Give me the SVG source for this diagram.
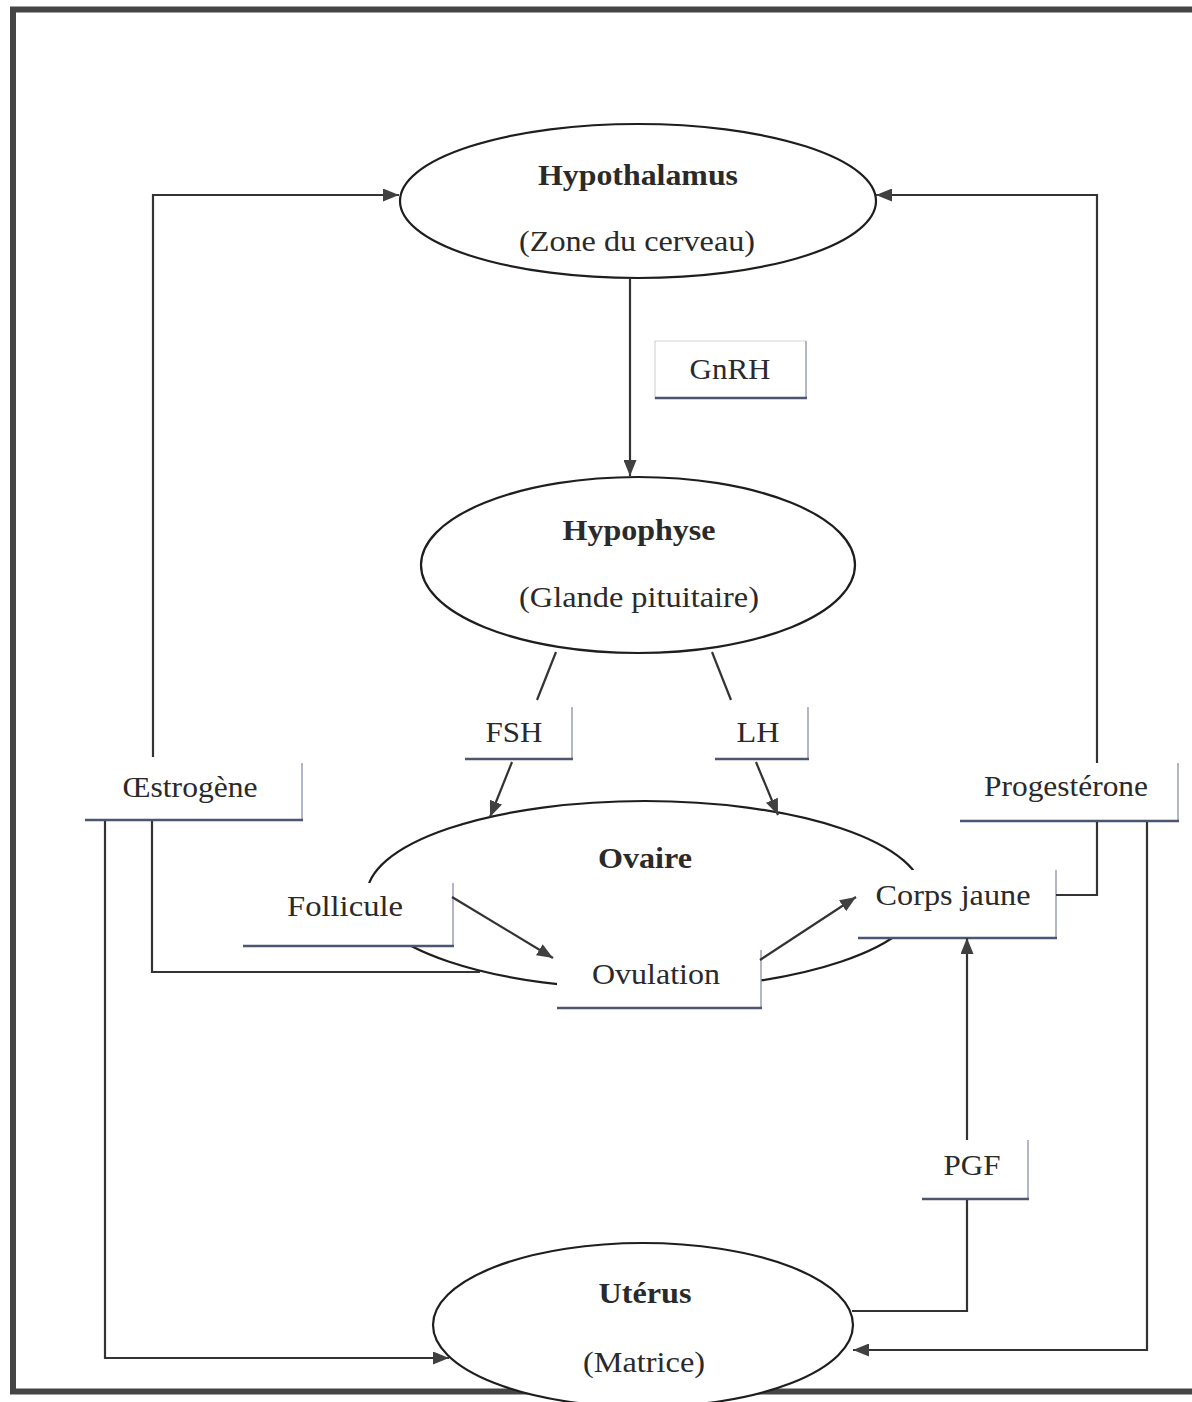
<svg xmlns="http://www.w3.org/2000/svg" width="1192" height="1402" viewBox="0 0 1192 1402">
<defs>
<marker id="ah" markerUnits="userSpaceOnUse" markerWidth="16" markerHeight="13" refX="16" refY="6.5" orient="auto">
<path d="M0,0 L16,6.5 L0,13 z" fill="#404040"/>
</marker>
<style>
.t{font-family:"Liberation Serif","Times New Roman",serif;font-size:30px;fill:#2a2a2a;text-anchor:middle}
.b{font-weight:bold}
.el{fill:#fff;stroke:#1e1e1e;stroke-width:2.2}
.bx{fill:#fff;stroke:none}
.bb{stroke:#4d5570;stroke-width:2.5;fill:none}
.br{stroke:#8a90aa;stroke-width:1.3;fill:none}
.bf{stroke:#d4d4d4;stroke-width:1.2;fill:none}
.c{fill:none;stroke:#333;stroke-width:2.2}
.ca{fill:none;stroke:#333;stroke-width:2.2;marker-end:url(#ah)}
</style>
</defs>
<rect width="1192" height="1402" fill="#fff"/>
<rect x="13" y="9.5" width="1210" height="1382" fill="none" stroke="#454545" stroke-width="6"/>

<g id="hypothalamus">
<ellipse class="el" cx="638" cy="201" rx="238" ry="77"/>
<text class="t b" x="638" y="185" textLength="200" lengthAdjust="spacingAndGlyphs">Hypothalamus</text>
<text class="t" x="637" y="251" textLength="236" lengthAdjust="spacingAndGlyphs">(Zone du cerveau)</text>
</g>

<g id="gnrh">
<rect class="bx" x="655" y="341" width="151" height="58"/>
<path class="bf" d="M655,399 V341 H806"/>
<path class="br" d="M806,341 V399"/>
<path class="bb" d="M655,398 H807"/>
<text class="t" x="730" y="379" textLength="81" lengthAdjust="spacingAndGlyphs">GnRH</text>
</g>

<g id="hypophyse">
<ellipse class="el" cx="638" cy="565" rx="217" ry="88"/>
<text class="t b" x="639" y="540" textLength="153" lengthAdjust="spacingAndGlyphs">Hypophyse</text>
<text class="t" x="639" y="607" textLength="240" lengthAdjust="spacingAndGlyphs">(Glande pituitaire)</text>
</g>

<g id="fsh">
<rect class="bx" x="465" y="707" width="107" height="52"/>
<path class="br" d="M572,707 V759"/>
<path class="bb" d="M465,759 H573"/>
<text class="t" x="514" y="742" textLength="57" lengthAdjust="spacingAndGlyphs">FSH</text>
</g>

<g id="lh">
<rect class="bx" x="715" y="707" width="93" height="52"/>
<path class="br" d="M808,707 V759"/>
<path class="bb" d="M715,759 H809"/>
<text class="t" x="758" y="742" textLength="43" lengthAdjust="spacingAndGlyphs">LH</text>
</g>

<g id="oestrogene">
<rect class="bx" x="85" y="763" width="217" height="57"/>
<path class="br" d="M302,763 V820"/>
<path class="bb" d="M85,820 H303"/>
<text class="t" x="190" y="797" textLength="135" lengthAdjust="spacingAndGlyphs">Œstrogène</text>
</g>

<g id="progesterone">
<rect class="bx" x="960" y="763" width="218" height="58"/>
<path class="br" d="M1178,763 V821"/>
<path class="bb" d="M960,821 H1179"/>
<text class="t" x="1066" y="796" textLength="164" lengthAdjust="spacingAndGlyphs">Progestérone</text>
</g>

<g id="ovaire">
<ellipse class="el" cx="645" cy="895" rx="278" ry="94"/>
<text class="t b" x="645" y="868" textLength="94" lengthAdjust="spacingAndGlyphs">Ovaire</text>
</g>

<g id="follicule">
<rect class="bx" x="243" y="883" width="210" height="64"/>
<path class="br" d="M453,883 V947"/>
<path class="bb" d="M243,946 H454"/>
<text class="t" x="345" y="916" textLength="116" lengthAdjust="spacingAndGlyphs">Follicule</text>
</g>

<g id="ovulation">
<rect class="bx" x="557" y="950" width="204" height="59"/>
<path class="br" d="M761,950 V1009"/>
<path class="bb" d="M557,1008 H762"/>
<text class="t" x="656" y="984" textLength="128" lengthAdjust="spacingAndGlyphs">Ovulation</text>
</g>

<g id="corps-jaune">
<rect class="bx" x="858" y="870" width="198" height="69"/>
<path class="br" d="M1056,870 V939"/>
<path class="bb" d="M858,938 H1057"/>
<text class="t" x="953" y="905" textLength="155" lengthAdjust="spacingAndGlyphs">Corps jaune</text>
</g>

<g id="pgf">
<rect class="bx" x="922" y="1140" width="106" height="60"/>
<path class="br" d="M1028,1140 V1200"/>
<path class="bb" d="M922,1199 H1029"/>
<text class="t" x="972" y="1175" textLength="57" lengthAdjust="spacingAndGlyphs">PGF</text>
</g>

<g id="uterus">
<ellipse class="el" cx="643" cy="1325" rx="210" ry="82"/>
<text class="t b" x="645" y="1303" textLength="93" lengthAdjust="spacingAndGlyphs">Utérus</text>
<text class="t" x="644" y="1372" textLength="122" lengthAdjust="spacingAndGlyphs">(Matrice)</text>
</g>

<g id="connectors">
<path class="ca" d="M630,278 V476"/>
<path class="c" d="M556,652 L537,700"/>
<path class="ca" d="M512,762 L490,817"/>
<path class="c" d="M712,652 L731,700"/>
<path class="ca" d="M756,762 L778,815"/>
<path class="ca" d="M153,757 V195 H399"/>
<path class="c" d="M480,972 H152 V821"/>
<path class="ca" d="M105,821 V1358 H449"/>
<path class="ca" d="M1097,763 V195 H876"/>
<path class="c" d="M1056,895 H1097 V822"/>
<path class="ca" d="M1147,822 V1350 H853"/>
<path class="c" d="M852,1311 H967 V1200"/>
<path class="ca" d="M967,1140 V938"/>
<path class="ca" d="M452,897 L553,958"/>
<path class="ca" d="M760,960 L856,897"/>
</g>
</svg>
